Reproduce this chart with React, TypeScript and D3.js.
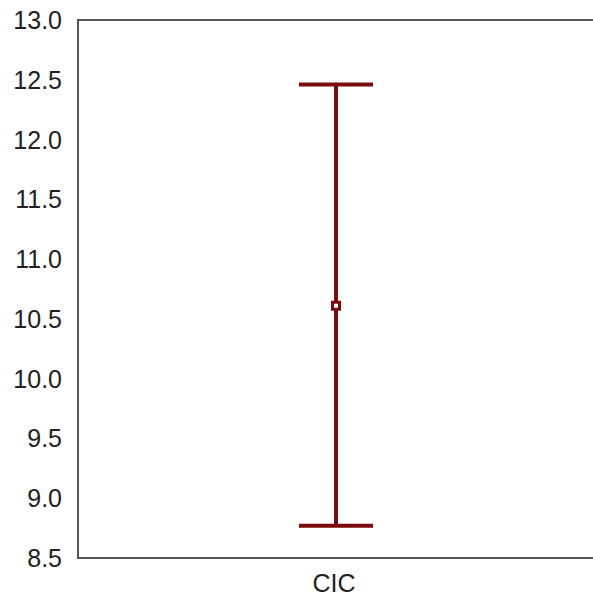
import React from "react";
import * as d3 from "d3";

const categories = ["CIC"];
const means = [10.61];
const lower = [8.77];
const upper = [12.46];
const yTicks = [8.5, 9.0, 9.5, 10.0, 10.5, 11.0, 11.5, 12.0, 12.5, 13.0];

export default function App() {
  const W = 593, H = 598;
  const left = 78, right = 593, top = 20, bottom = 558;
  const y = d3.scaleLinear().domain([8.5, 13.0]).range([bottom, top]);
  const x = d3.scaleBand().domain(categories).range([left, right + 2]);
  const color = "#7b0c0c";
  return (
    <svg width={W} height={H} style={{ position: "absolute", left: 0, top: 0, background: "#fff" }}>
      <rect x={0} y={0} width={W} height={H} fill="#fff" />
      <path d={`M${right + 5},${top} H${left} V${bottom} H${right + 5}`} fill="none" stroke="#555" strokeWidth={2} />
      {yTicks.map((t) => (
        <text key={t} x={62} y={y(t)} dy="0.36em" textAnchor="end" fontFamily="Liberation Sans, Arial, sans-serif" fontSize={25} fill="#222">
          {t.toFixed(1)}
        </text>
      ))}
      {categories.map((c, i) => {
        const cx = (x(c) as number) + x.bandwidth() / 2 - 0.5;
        return (
          <g key={c}>
            <line x1={cx} x2={cx} y1={y(upper[i])} y2={y(lower[i])} stroke={color} strokeWidth={4} />
            <line x1={cx - 37} x2={cx + 37} y1={y(upper[i])} y2={y(upper[i])} stroke={color} strokeWidth={4} />
            <line x1={cx - 37} x2={cx + 37} y1={y(lower[i])} y2={y(lower[i])} stroke={color} strokeWidth={4} />
            <rect x={cx - 3.5} y={y(means[i]) - 3.5} width={7} height={7} fill="#fff" stroke={color} strokeWidth={3} />
            <text x={cx - 2} y={592} textAnchor="middle" fontFamily="Liberation Sans, Arial, sans-serif" fontSize={25} fill="#222">
              {c}
            </text>
          </g>
        );
      })}
    </svg>
  );
}
